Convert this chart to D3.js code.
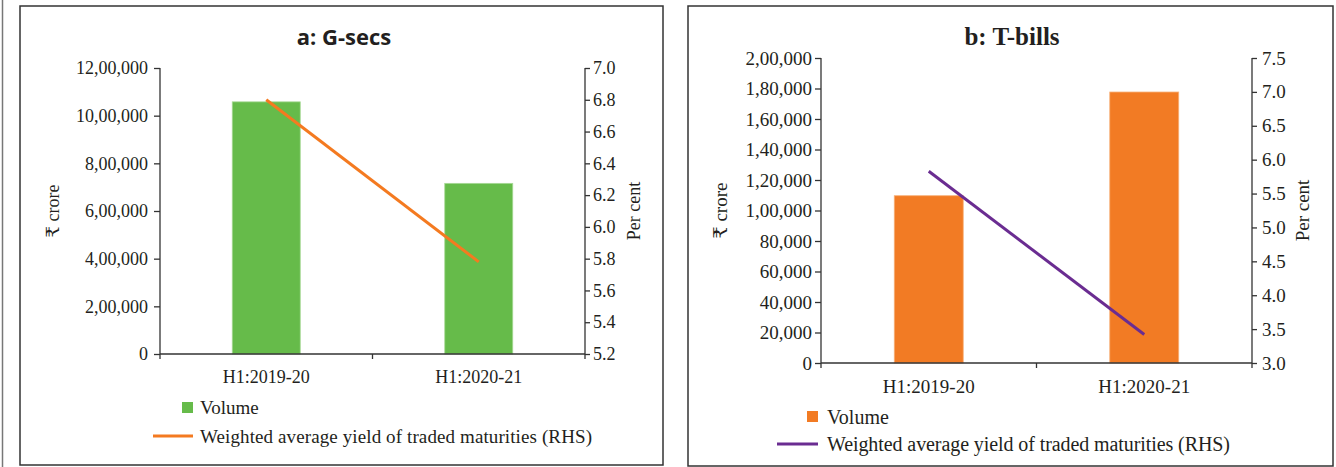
<!DOCTYPE html>
<html><head><meta charset="utf-8">
<script src="https://cdn.jsdelivr.net/npm/d3@7"></script>
<style>
html,body{margin:0;padding:0;background:#fff;}
svg{display:block;}
text{fill:#231f20;}
</style></head>
<body>
<svg id="chart" width="1336" height="467"></svg>
<script>
// ---- data ----
const categories = ["H1:2019-20", "H1:2020-21"];
const gsecVolume = [1058000, 716000];
const gsecYield = [6.80, 5.78];
const tbillVolume = [109700, 177700];
const tbillYield = [5.83, 3.42];
const gsecLeftTicks = [0, 200000, 400000, 600000, 800000, 1000000, 1200000];
const gsecRightTicks = [5.2, 5.4, 5.6, 5.8, 6.0, 6.2, 6.4, 6.6, 6.8, 7.0];
const tbillLeftTicks = [0, 20000, 40000, 60000, 80000, 100000, 120000, 140000, 160000, 180000, 200000];
const tbillRightTicks = [3.0, 3.5, 4.0, 4.5, 5.0, 5.5, 6.0, 6.5, 7.0, 7.5];
const titles = ["a: G-secs", "b: T-bills"];
const legendLabels = ["Volume", "Weighted average yield of traded maturities (RHS)"];
const leftAxisTitle = "₹ crore";
const rightAxisTitle = "Per cent";

const indian = d3.formatLocale({decimal: ".", thousands: ",", grouping: [3, 2, 2, 2, 2], currency: ["", ""]}).format(",d");
const fmt1 = d3.format(".1f");

const svg = d3.select("#chart");
const SERIF = "'Liberation Serif', 'DejaVu Serif', serif";

// page edge line
svg.append("line").attr("x1", 2.5).attr("x2", 2.5).attr("y1", 0).attr("y2", 467)
  .attr("stroke", "#777").attr("stroke-width", 1.5);

function panel(cfg) {
  const FS = cfg.fs;
  const g = svg.append("g");
  g.append("rect").attr("x", cfg.frame[0]).attr("y", cfg.frame[1])
    .attr("width", cfg.frame[2]).attr("height", cfg.frame[3])
    .attr("fill", "none").attr("stroke", "#333").attr("stroke-width", 1.5);

  g.append("text").attr("x", cfg.titleX).attr("y", 45).attr("text-anchor", "middle")
    .attr("font-family", cfg.titleFont).attr("font-weight", "bold")
    .attr("font-size", cfg.titleSize).text(cfg.title);

  const x = d3.scaleBand().domain(categories).range([cfg.left, cfg.right]).paddingInner(0).paddingOuter(0);
  const y = d3.scaleLinear().domain(cfg.leftDomain).range([cfg.bottom, cfg.top]);
  const y2 = d3.scaleLinear().domain(cfg.rightDomain).range([cfg.bottom, cfg.top]);
  const bw = x.bandwidth() * 0.32;

  // bars
  g.selectAll("rect.bar").data(cfg.volume).join("rect").attr("class", "bar")
    .attr("x", (d, i) => x(categories[i]) + x.bandwidth() / 2 - bw / 2)
    .attr("width", bw)
    .attr("y", d => y(d)).attr("height", d => y(0) - y(d))
    .attr("fill", cfg.barColor).attr("stroke", cfg.barEdge).attr("stroke-width", 0.8);

  // left axis
  const la = g.append("g").attr("transform", `translate(${cfg.left},0)`)
    .call(d3.axisLeft(y).tickValues(cfg.leftTicks).tickFormat(indian).tickSize(6).tickPadding(cfg.leftPad));
  // right axis
  const ra = g.append("g").attr("transform", `translate(${cfg.right},0)`)
    .call(d3.axisRight(y2).tickValues(cfg.rightTicks).tickFormat(fmt1).tickSize(5).tickPadding(cfg.rightPad));
  // x axis
  const xa = g.append("g").attr("transform", `translate(0,${cfg.bottom})`)
    .call(d3.axisBottom(x).tickSize(0).tickPadding(cfg.xPad));
  const bounds = [cfg.left, cfg.left + x.bandwidth(), cfg.right];
  xa.selectAll("line.bt").data(bounds).join("line").attr("class", "bt")
    .attr("x1", d => d).attr("x2", d => d).attr("y1", 0).attr("y2", 5)
    .attr("stroke", "#333").attr("stroke-width", 1.3);

  [la, ra, xa].forEach(a => {
    a.selectAll("path").attr("stroke", "#333").attr("stroke-width", 1.3);
    a.selectAll(".tick line").attr("stroke", "#333").attr("stroke-width", 1.3);
    a.selectAll("text").attr("font-family", SERIF).attr("font-size", FS).attr("fill", "#231f20");
  });
  la.select("path").attr("d", `M0,${cfg.top}V${cfg.bottom}`);
  ra.select("path").attr("d", `M0,${cfg.top}V${cfg.bottom}`);
  xa.select("path").attr("d", `M${cfg.left},0H${cfg.right}`);

  // line
  const line = d3.line().x((d, i) => x(categories[i]) + x.bandwidth() / 2).y(d => y2(d));
  g.append("path").datum(cfg.yield).attr("d", line).attr("fill", "none")
    .attr("stroke", cfg.lineColor).attr("stroke-width", 3);

  // axis titles
  const mid = (cfg.top + cfg.bottom) / 2;
  g.append("text").attr("transform", `translate(${cfg.ltX},${mid}) rotate(-90)`)
    .attr("text-anchor", "middle").attr("font-family", SERIF).attr("font-size", FS).text(leftAxisTitle);
  g.append("text").attr("transform", `translate(${cfg.rtX},${mid}) rotate(-90)`)
    .attr("text-anchor", "middle").attr("font-family", SERIF).attr("font-size", FS).text(rightAxisTitle);

  // legend
  const L = cfg.legend;
  g.append("rect").attr("x", L.sqX).attr("y", L.sqY).attr("width", 11).attr("height", 11).attr("fill", cfg.barColor);
  g.append("text").attr("x", L.textX).attr("y", L.sqY + 5.5).attr("dy", "0.35em")
    .attr("font-family", SERIF).attr("font-size", FS + 1).text(legendLabels[0]);
  g.append("line").attr("x1", L.lnX1).attr("x2", L.lnX2).attr("y1", L.lnY).attr("y2", L.lnY)
    .attr("stroke", cfg.lineColor).attr("stroke-width", 3);
  g.append("text").attr("x", L.textX).attr("y", L.lnY).attr("dy", "0.35em")
    .attr("font-family", SERIF).attr("font-size", FS + 1)
    .attr("textLength", L.textW).attr("lengthAdjust", "spacing").text(legendLabels[1]);
}

panel({
  frame: [20, 6, 643, 459], title: titles[0], titleX: 344, fs: 18,
  titleFont: "'Open Sans', 'Noto Sans', sans-serif", titleSize: 22,
  left: 160, right: 585, top: 68, bottom: 354,
  leftDomain: [0, 1200000], rightDomain: [5.2, 7.0],
  leftTicks: gsecLeftTicks, rightTicks: gsecRightTicks, leftPad: 6, rightPad: 3, xPad: 16,
  volume: gsecVolume, yield: gsecYield,
  barColor: "#66bb4a", barEdge: "#a8d996", lineColor: "#f47a20",
  ltX: 59, rtX: 640,
  legend: {sqX: 182, sqY: 402, textX: 200, textW: 392, lnX1: 153, lnX2: 193, lnY: 436}
});

panel({
  frame: [688, 6, 645, 460], title: titles[1], titleX: 1012, fs: 19,
  titleFont: SERIF, titleSize: 25,
  left: 821, right: 1252, top: 58, bottom: 363,
  leftDomain: [0, 200000], rightDomain: [3.0, 7.5],
  leftTicks: tbillLeftTicks, rightTicks: tbillRightTicks, leftPad: 3, rightPad: 5, xPad: 17,
  volume: tbillVolume, yield: tbillYield,
  barColor: "#f27b24", barEdge: "#f7b07a", lineColor: "#6a2c91",
  ltX: 727, rtX: 1309,
  legend: {sqX: 807, sqY: 411, textX: 827, textW: 403, lnX1: 777, lnX2: 818, lnY: 444}
});
</script>
</body></html>
